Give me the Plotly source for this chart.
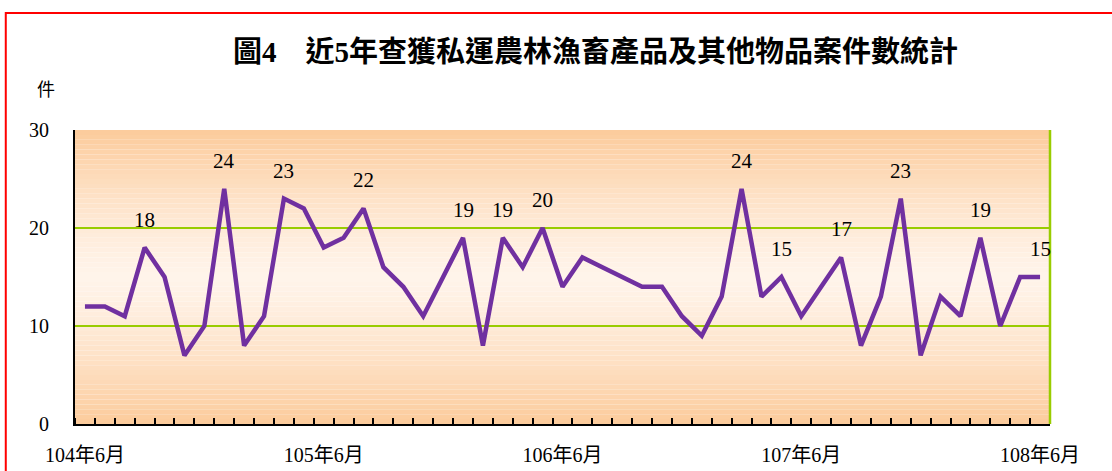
import plotly.graph_objects as go

# ---- data ----
months = []
for k in range(49):
    yr = 104 + (5 + k) // 12
    mo = (5 + k) % 12 + 1
    months.append(f"{yr}年{mo}月")

cases = [12, 12, 11, 18, 15, 7, 10, 24, 8, 11,
         23, 22, 18, 19, 22, 16, 14, 11, 15, 19,
         8, 19, 16, 20, 14, 17, 16, 15, 14, 14,
         11, 9, 13, 24, 13, 15, 11, 14, 17, 8,
         13, 23, 7, 13, 11, 19, 10, 15, 15]

label_idx = [3, 7, 10, 14, 19, 21, 23, 33, 35, 38, 41, 45, 48]
xlabel_idx = [0, 12, 24, 36, 48]
yticks = [0, 10, 20, 30]

title = "圖4　近5年查獲私運農林漁畜產品及其他物品案件數統計"
unit = "件"

x = list(range(len(months)))

fig = go.Figure()
fig.add_trace(go.Scatter(
    x=x, y=cases, mode="lines",
    line=dict(color="#7030A0", width=4.5),
    hoverinfo="x+y", showlegend=False,
))

serif = "Liberation Serif, Times New Roman, Noto Sans CJK TC, serif"

# gradient background bands
dark = (252, 203, 155)
light = (255, 244, 234)
nb = 60
shapes = []
for i in range(nb):
    y0 = 30 * i / nb
    y1 = 30 * (i + 1) / nb
    t = abs((y0 + y1) / 2 - 15) / 15
    t = t ** 1.3
    c = tuple(int(round(light[j] + (dark[j] - light[j]) * t)) for j in range(3))
    shapes.append(dict(type="rect", xref="paper", yref="y", x0=0, x1=1, y0=y0, y1=y1,
                       fillcolor=f"rgb{c}", line=dict(width=0), layer="below"))
# right border
shapes.append(dict(type="line", xref="paper", yref="paper", x0=1, x1=1, y0=0, y1=1,
                   line=dict(color="#99CC00", width=2.5)))
# outer red frame
shapes.append(dict(type="rect", xref="paper", yref="paper", x0=-0.071, x1=1.07, y0=-0.2, y1=1.398,
                   line=dict(color="#FF0000", width=2), fillcolor="rgba(0,0,0,0)"))

annotations = []
for i in label_idx:
    annotations.append(dict(x=x[i], y=cases[i], text=str(cases[i]), showarrow=False,
                            yshift=28, yanchor="middle",
                            font=dict(family=serif, size=21, color="black")))
annotations.append(dict(x=0.534, y=(424 - 52) / 294, xref="paper", yref="paper",
                        text=f"<b>{title}</b>", showarrow=False, yanchor="middle", xanchor="center",
                        font=dict(family=serif, size=29, color="black")))
annotations.append(dict(x=(46 - 75) / 975, y=(424 - 90) / 294, xref="paper", yref="paper",
                        text=unit, showarrow=False, yanchor="middle", xanchor="center",
                        font=dict(family=serif, size=18, color="black")))

fig.update_layout(
    width=1112, height=471,
    margin=dict(l=75, r=62, t=130, b=47),
    paper_bgcolor="white", plot_bgcolor="rgba(0,0,0,0)",
    shapes=shapes, annotations=annotations,
    xaxis=dict(
        range=[-0.5, 48.5], tickmode="array",
        tickvals=[x[i] for i in xlabel_idx], ticktext=[months[i] for i in xlabel_idx],
        ticks="", showgrid=False, zeroline=False, automargin=False,
        showline=True, linecolor="black", linewidth=2,
        tickfont=dict(family=serif, size=20, color="black"),
        ticklabelstandoff=12,
        minor=dict(tickmode="array", tickvals=[k - 0.5 for k in range(50)],
                   ticks="inside", ticklen=6, tickcolor="black", tickwidth=1.5, showgrid=False),
        fixedrange=True,
    ),
    yaxis=dict(
        range=[0, 30], tickvals=yticks, ticks="",
        showgrid=True, gridcolor="#99CC00", gridwidth=2,
        zeroline=False, showline=True, linecolor="black", linewidth=2, automargin=False,
        tickfont=dict(family=serif, size=20, color="black"),
        ticklabelstandoff=20,
        fixedrange=True,
    ),
)

fig.write_html("out.html", config={"displayModeBar": False},
               post_script="document.body.style.margin='0';")
